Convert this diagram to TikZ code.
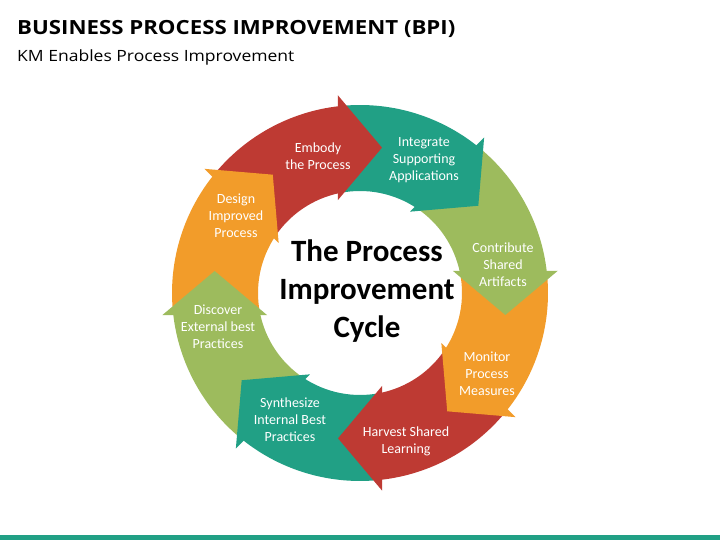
\documentclass[tikz,border=0pt]{standalone}
\usepackage{fontspec}
\setmainfont{Carlito}
\newfontfamily\headfont{Open Sans}
\usetikzlibrary{calc}

\definecolor{bpired}{HTML}{BE3A33}
\definecolor{bpiteal}{HTML}{21A085}
\definecolor{bpigreen}{HTML}{9DBB5D}
\definecolor{bpiorange}{HTML}{F29C2A}

\tikzset{
  steplabel/.style={text=white, align=center, inner sep=0pt, font=\fontsize{14}{17}\selectfont},
  cyclelabel/.style={align=center, inner sep=0pt, font=\fontsize{31}{38}\selectfont\bfseries},
}

\begin{document}
\begin{tikzpicture}[x=1pt, y=1pt]
    \useasboundingbox[fill=white] (0,0) rectangle (720,540);
    \coordinate (c) at (360,247);

    % ring bodies
    \foreach \tip/\col in {81.4/bpired, 36.4/bpiteal, -8.6/bpigreen, -53.6/bpiorange,
                           -98.6/bpired, -143.6/bpiteal, -188.6/bpigreen, -233.6/bpiorange}
        \fill[\col] ($(c)+({\tip+60}:188)$) arc[start angle=\tip+60, end angle=\tip+15, radius=188pt]
            -- ($(c)+({\tip+20}:102)$) arc[start angle=\tip+20, end angle=\tip+65, radius=102pt] -- cycle;

    % arrow heads
    \foreach \tip/\col in {81.4/bpired, 36.4/bpiteal, -8.6/bpigreen, -53.6/bpiorange,
                           -98.6/bpired, -143.6/bpiteal, -188.6/bpigreen, -233.6/bpiorange}
        \fill[\col] ($(c)+({\tip+15}:199)$) -- ($(c)+(\tip:147)$) -- ($(c)+({\tip+22}:95.5)$) -- cycle;

    \node (embody) [steplabel] at (318,384) {Embody\\the Process};
    \node (integrate) [steplabel] at (424,380) {Integrate\\Supporting\\Applications};
    \node (contribute) [steplabel] at (503,275) {Contribute\\Shared\\Artifacts};
    \node (monitor) [steplabel] at (487,166) {Monitor\\Process\\Measures};
    \node (harvest) [steplabel] at (406,99) {Harvest Shared\\Learning};
    \node (synthesize) [steplabel] at (290,120) {Synthesize\\Internal Best\\Practices};
    \node (discover) [steplabel] at (218,213) {Discover\\External best\\Practices};
    \node (design) [steplabel] at (236,324) {Design\\Improved\\Process};

    \node (cycle) [cyclelabel] at (367,249) {The Process\\Improvement\\Cycle};

    \node (title) [anchor=base west, inner sep=0pt, font=\headfont\fontsize{19.5}{23}\selectfont\bfseries] at (17,505)
        {\scalebox{1.14}[1]{BUSINESS PROCESS IMPROVEMENT (BPI)}};
    \node (subtitle) [anchor=base west, inner sep=0pt, font=\headfont\fontsize{15.5}{19}\selectfont] at (17,478)
        {\scalebox{1.13}[1]{KM Enables Process Improvement}};

    \fill[bpiteal] (0,0) rectangle (720,5);
\end{tikzpicture}
\end{document}
